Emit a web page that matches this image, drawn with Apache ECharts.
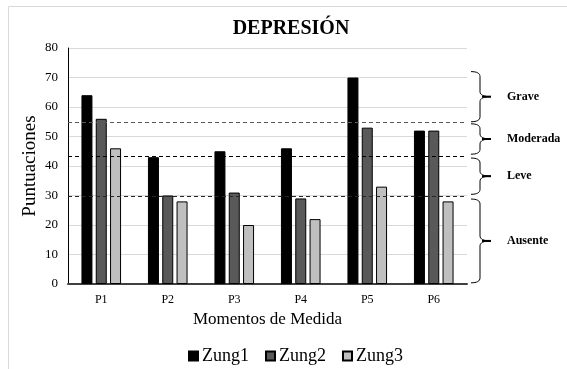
<!DOCTYPE html>
<html>
<head>
<meta charset="utf-8">
<script src="https://cdn.jsdelivr.net/npm/echarts@6/dist/echarts.min.js"></script>
<style>
  html, body { margin: 0; padding: 0; background: #fff; }
  #chart { width: 567px; height: 369px; }
</style>
</head>
<body>
<div id="chart"></div>
<script>
// Measurement moments and Zung depression scores
const categories = ['P1', 'P2', 'P3', 'P4', 'P5', 'P6'];
const zung1 = [64, 43, 45, 46, 70, 52];
const zung2 = [56, 30, 31, 29, 53, 52];
const zung3 = [46, 28, 20, 22, 33, 28];
const yTicks = [0, 10, 20, 30, 40, 50, 60, 70, 80];

// Cut-off scores separating severity bands
const cutoffs = [54.7, 43.4, 29.7];
const cutoffColors = ['#595959', '#000000', '#262626'];

// Severity bands: label, upper value, lower value
const bandLabels = ['Grave', 'Moderada', 'Leve', 'Ausente'];
const bandTop = [72, 54.3, 42.7, 28.8];
const bandBottom = [55, 44, 30.4, 0.4];

const serif = '"Liberation Serif", "Times New Roman", serif';
const chart = echarts.init(document.getElementById('chart'));

function barSeries(name, data, color, withLines) {
  const s = {
    name: name,
    type: 'bar',
    data: data,
    barWidth: 11,
    barGap: '30%',
    itemStyle: { color: color, borderColor: '#000', borderWidth: 1 },
    emphasis: { disabled: true }
  };
  if (withLines) {
    s.markLine = {
      silent: true,
      symbol: 'none',
      label: { show: false },
      data: cutoffs.map((v, i) => ({
        yAxis: v,
        lineStyle: { color: cutoffColors[i], type: [4, 3], width: 1 }
      }))
    };
  }
  return s;
}

chart.setOption({
  animation: false,
  title: {
    text: 'DEPRESIÓN',
    left: 286, top: 14, textAlign: 'center',
    textStyle: { fontFamily: serif, fontWeight: 'bold', fontSize: 20, color: '#000' }
  },
  legend: {
    data: ['Zung1', 'Zung2', 'Zung3'],
    left: 183, top: 342,
    itemWidth: 9, itemHeight: 9, itemGap: 16,
    textStyle: { fontFamily: serif, fontSize: 18, color: '#000', padding: [0, 0, 0, -1] },
    icon: 'rect'
  },
  grid: { left: 68, right: 100, top: 48, bottom: 85 },
  xAxis: {
    type: 'category',
    data: categories,
    name: 'Momentos de Medida',
    nameLocation: 'middle',
    nameGap: 27,
    nameTextStyle: { fontFamily: serif, fontSize: 17, color: '#000' },
    axisLine: { lineStyle: { color: '#404040', width: 2 } },
    axisTick: { show: false },
    axisLabel: { fontFamily: serif, fontSize: 12, color: '#000', margin: 10 }
  },
  yAxis: {
    type: 'value',
    min: yTicks[0], max: yTicks[yTicks.length - 1], interval: 10,
    name: 'Puntuaciones',
    nameLocation: 'middle',
    nameGap: 28,
    nameMoveOverlap: false,
    nameTextStyle: { fontFamily: serif, fontSize: 19, color: '#000' },
    axisLine: { show: true, lineStyle: { color: '#000', width: 1 } },
    axisTick: { show: false },
    axisLabel: { fontFamily: serif, fontSize: 13, color: '#000', margin: 10 },
    splitLine: { lineStyle: { color: '#d9d9d9', width: 1 } }
  },
  series: [
    barSeries('Zung1', zung1, '#000000', true),
    barSeries('Zung2', zung2, '#595959', false),
    barSeries('Zung3', zung3, '#bfbfbf', false)
  ]
});

// Curly braces marking each severity band on the right side
function quad(p0, p1, p2, n) {
  const pts = [];
  for (let k = 0; k <= n; k++) {
    const t = k / n, u = 1 - t;
    pts.push([
      u * u * p0[0] + 2 * u * t * p1[0] + t * t * p2[0],
      u * u * p0[1] + 2 * u * t * p1[1] + t * t * p2[1]
    ]);
  }
  return pts;
}
function bracePoints(x0, xv, xt, yT, yB) {
  const ym = (yT + yB) / 2;
  const r = Math.min(5, (yB - yT) / 4);
  return [].concat(
    quad([x0, yT], [xv, yT], [xv, yT + r], 8),
    quad([xv, ym - r], [xv, ym], [xt, ym], 8),
    quad([xt, ym], [xv, ym], [xv, ym + r], 8),
    quad([xv, yB - r], [xv, yB], [x0, yB], 8)
  );
}

const graphics = [{
  type: 'rect', silent: true, z: -1,
  shape: { x: 8.5, y: 6.5, width: 700, height: 500 },
  style: { fill: 'none', stroke: '#d9d9d9', lineWidth: 1 }
}];
const bx = 471, bv = 480, bt = 491;
bandLabels.forEach((label, i) => {
  const yT = chart.convertToPixel({ yAxisIndex: 0 }, bandTop[i]);
  const yB = chart.convertToPixel({ yAxisIndex: 0 }, bandBottom[i]);
  const ym = (yT + yB) / 2;
  graphics.push({
    type: 'polyline', silent: true,
    shape: { points: bracePoints(bx, bv, bt, yT, yB) },
    style: { fill: 'none', stroke: '#000', lineWidth: 1 }
  });
  graphics.push({
    type: 'line', silent: true,
    shape: { x1: bv + 2, y1: ym, x2: bt, y2: ym },
    style: { stroke: '#000', lineWidth: 2 }
  });
  graphics.push({
    type: 'text', silent: true,
    x: 507, y: ym,
    style: {
      text: label, fontFamily: serif, fontWeight: 'bold', fontSize: 12,
      fill: '#000', verticalAlign: 'middle', align: 'left'
    }
  });
});
chart.setOption({ graphic: graphics });
</script>
</body>
</html>
